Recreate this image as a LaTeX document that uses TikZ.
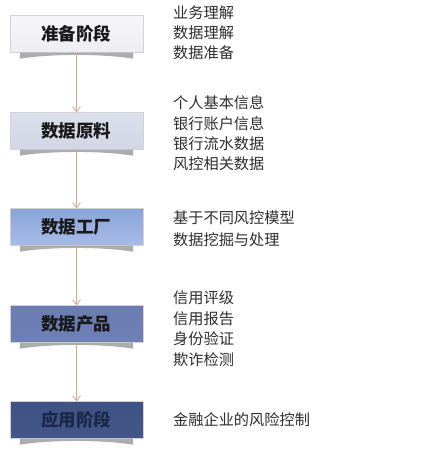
\documentclass[tikz,border=0pt]{standalone}
\usepackage{fontspec}
\newfontfamily\cjk{Noto Sans CJK SC}
\usetikzlibrary{arrows.meta}
\definecolor{boxA}{HTML}{EDEDF3}
\definecolor{boxAt}{HTML}{F6F6FA}
\definecolor{boxB}{HTML}{D2D6E6}
\definecolor{boxBt}{HTML}{DCDFEC}
\definecolor{boxC}{HTML}{A8BBE6}
\definecolor{boxCt}{HTML}{88A4DA}
\definecolor{boxD}{HTML}{6E80B6}
\definecolor{boxDt}{HTML}{6A7CB2}
\definecolor{boxE}{HTML}{43568A}
\definecolor{boxEt}{HTML}{3F5285}
\definecolor{arrowc}{HTML}{D9A587}
\definecolor{labc}{HTML}{1A1A1A}
\definecolor{navytext}{HTML}{1C2848}
\definecolor{descc}{HTML}{2E2E2E}
\tikzset{
  stage/.style={minimum width=133pt, minimum height=37pt, inner sep=0pt,
    font=\cjk\fontsize{17.5}{17.5}\selectfont\bfseries, text=labc, draw=gray!35, line width=0.4pt},
  desc/.style={anchor=west, inner sep=0pt, font=\cjk\fontsize{15.2}{15.2}\selectfont, text=descc},
  flow/.style={draw=arrowc, line width=0.7pt, -{Straight Barb[length=5pt,width=8pt]}}
}
\newcommand{\curvshadow}[1]{%
  \fill[gray!65] ([xshift=10pt]#1.south west) -- ([xshift=-10pt]#1.south east)
    -- ([xshift=-10pt,yshift=-6pt]#1.south east)
    .. controls ([xshift=-40pt,yshift=-1pt]#1.south east) and ([xshift=40pt,yshift=-1pt]#1.south west) ..
    ([xshift=10pt,yshift=-6pt]#1.south west) -- cycle;}
\begin{document}
\begin{tikzpicture}[x=1pt,y=-1pt]
\useasboundingbox (0,0) rectangle (435,475);
\fill[white] (0,0) rectangle (435,475);

\node[stage, top color=boxAt, bottom color=boxA] (s1) at (76.5,34) {准备阶段};
\node[stage, top color=boxBt, bottom color=boxB] (s2) at (76.5,131) {数据原料};
\node[stage, top color=boxCt, bottom color=boxC] (s3) at (76.5,227) {数据工厂};
\node[stage, top color=boxDt, bottom color=boxD] (s4) at (76.5,324) {数据产品};
\node[stage, top color=boxEt, bottom color=boxE, text=navytext] (s5) at (76.5,420) {应用阶段};

\curvshadow{s1}
\curvshadow{s2}
\curvshadow{s3}
\curvshadow{s4}
\curvshadow{s5}

\draw[flow] (s1.south) -- (s2.north);
\draw[flow] (s2.south) -- (s3.north);
\draw[flow] (s3.south) -- (s4.north);
\draw[flow] (s4.south) -- (s5.north);

\node[desc] (d11) at (173,13) {业务理解};
\node[desc] (d12) at (173,33) {数据理解};
\node[desc] (d13) at (173,53) {数据准备};

\node[desc] (d21) at (173,103) {个人基本信息};
\node[desc] (d22) at (173,124) {银行账户信息};
\node[desc] (d23) at (173,144) {银行流水数据};
\node[desc] (d24) at (173,164) {风控相关数据};

\node[desc] (d31) at (173,218) {基于不同风控模型};
\node[desc] (d32) at (173,239.5) {数据挖掘与处理};

\node[desc] (d41) at (173,298) {信用评级};
\node[desc] (d42) at (173,318.5) {信用报告};
\node[desc] (d43) at (173,339) {身份验证};
\node[desc] (d44) at (173,360) {欺诈检测};

\node[desc] (d51) at (173,420) {金融企业的风险控制};
\end{tikzpicture}
\end{document}
